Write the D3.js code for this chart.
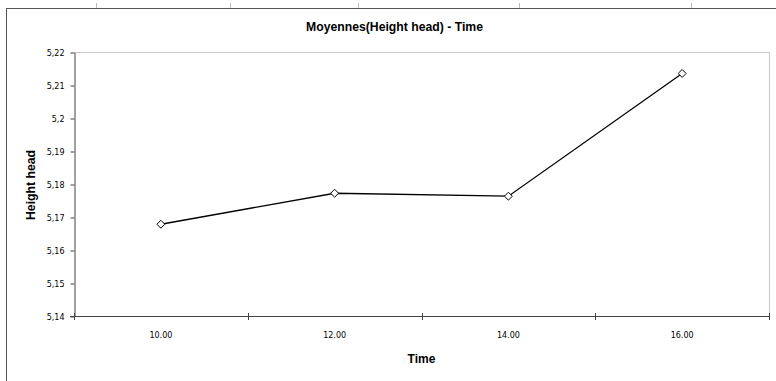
<!DOCTYPE html>
<html><head><meta charset="utf-8">
<script src="https://cdn.jsdelivr.net/npm/d3@7"></script>
<style>
html,body{margin:0;padding:0;background:#fff;}
svg{display:block;}
</style></head>
<body>
<svg id="chart" width="776" height="381"></svg>
<script>
const categories = ["10.00", "12.00", "14.00", "16.00"];
const values = [5.1678, 5.1772, 5.1763, 5.2135];
const yTicks = [5.14, 5.15, 5.16, 5.17, 5.18, 5.19, 5.2, 5.21, 5.22];
const yTickLabels = ["5,14", "5,15", "5,16", "5,17", "5,18", "5,19", "5,2", "5,21", "5,22"];
const titleText = "Moyennes(Height head) - Time";
const xTitle = "Time";
const yTitle = "Height head";

const svg = d3.select("#chart");
const W = 776, H = 381;
const m = {left: 74, top: 52, right: 769, bottom: 316};
const narrow = "'Liberation Sans Narrow', 'Arial Narrow', 'Liberation Sans', Arial, sans-serif";
const small = "Tahoma, 'DejaVu Sans', 'Liberation Sans', sans-serif";

// outer sheet frame
svg.append("line").attr("x1", 6.5).attr("x2", 6.5).attr("y1", 8).attr("y2", H).attr("stroke", "#555").attr("stroke-width", 1);
svg.append("line").attr("x1", 6).attr("x2", W).attr("y1", 8.5).attr("y2", 8.5).attr("stroke", "#555").attr("stroke-width", 1);
[96, 230, 358, 519, 691].forEach(x => {
  svg.append("line").attr("x1", x + 0.5).attr("x2", x + 0.5).attr("y1", 3).attr("y2", 8).attr("stroke", "#bbb");
});

const x = d3.scaleBand().domain(categories).range([m.left, m.right]).padding(0);
const y = d3.scaleLinear().domain([5.14, 5.22]).range([m.bottom, m.top]);

// plot area border (top/right light gray)
svg.append("line").attr("x1", m.left).attr("x2", m.right + 0.5).attr("y1", m.top + 0.5).attr("y2", m.top + 0.5).attr("stroke", "#c8c8c8");
svg.append("line").attr("x1", m.right + 0.5).attr("x2", m.right + 0.5).attr("y1", m.top).attr("y2", m.bottom).attr("stroke", "#c8c8c8");

// y axis
const yAxis = d3.axisLeft(y).tickValues(yTicks).tickSize(4).tickSizeOuter(0)
  .tickFormat((d, i) => yTickLabels[i]);
const gy = svg.append("g").attr("transform", `translate(${m.left + 0.5},0.5)`).call(yAxis);
gy.select(".domain").attr("stroke", "#444");
gy.selectAll(".tick line").attr("stroke", "#444");
gy.selectAll(".tick text").attr("font-family", small).attr("font-size", 8).attr("fill", "#000").attr("x", -10);

// x axis: ticks at category boundaries
const boundaries = categories.map(c => x(c)).concat([m.right]);
svg.append("line").attr("x1", m.left - 4).attr("x2", m.right + 0.5).attr("y1", m.bottom + 0.5).attr("y2", m.bottom + 0.5).attr("stroke", "#444");
svg.selectAll(".xb").data(boundaries).enter().append("line")
  .attr("x1", d => Math.round(d) + 0.5).attr("x2", d => Math.round(d) + 0.5)
  .attr("y1", m.bottom - 3).attr("y2", m.bottom + 4).attr("stroke", "#444");
svg.selectAll(".xl").data(categories).enter().append("text")
  .attr("x", d => x(d) + x.bandwidth() / 2).attr("y", 338)
  .attr("text-anchor", "middle").attr("font-family", small).attr("font-size", 8).attr("fill", "#000")
  .text(d => d);

// line
const pts = categories.map((c, i) => [x(c) + x.bandwidth() / 2, y(values[i])]);
svg.append("path").attr("d", d3.line()(pts)).attr("fill", "none").attr("stroke", "#000").attr("stroke-width", 1.3);
svg.selectAll(".mk").data(pts).enter().append("path")
  .attr("d", d3.symbol(d3.symbolDiamond2, 40)())
  .attr("transform", d => `translate(${d[0]},${d[1]})`)
  .attr("fill", "#fff").attr("stroke", "#000").attr("stroke-width", 1);

// titles
svg.append("text").attr("x", 394.5).attr("y", 31).attr("text-anchor", "middle")
  .attr("font-family", narrow).attr("font-weight", "bold").attr("font-size", 13.5)
  .attr("textLength", 177).attr("lengthAdjust", "spacingAndGlyphs").text(titleText);
svg.append("text").attr("x", (m.left + m.right) / 2).attr("y", 363).attr("text-anchor", "middle")
  .attr("font-family", narrow).attr("font-weight", "bold").attr("font-size", 12).text(xTitle);
svg.append("text").attr("transform", `translate(34.5,${(m.top + m.bottom) / 2 + 1}) rotate(-90)`).attr("text-anchor", "middle")
  .attr("font-family", narrow).attr("font-weight", "bold").attr("font-size", 12)
  .attr("textLength", 70).attr("lengthAdjust", "spacingAndGlyphs").text(yTitle);
</script>
</body></html>
